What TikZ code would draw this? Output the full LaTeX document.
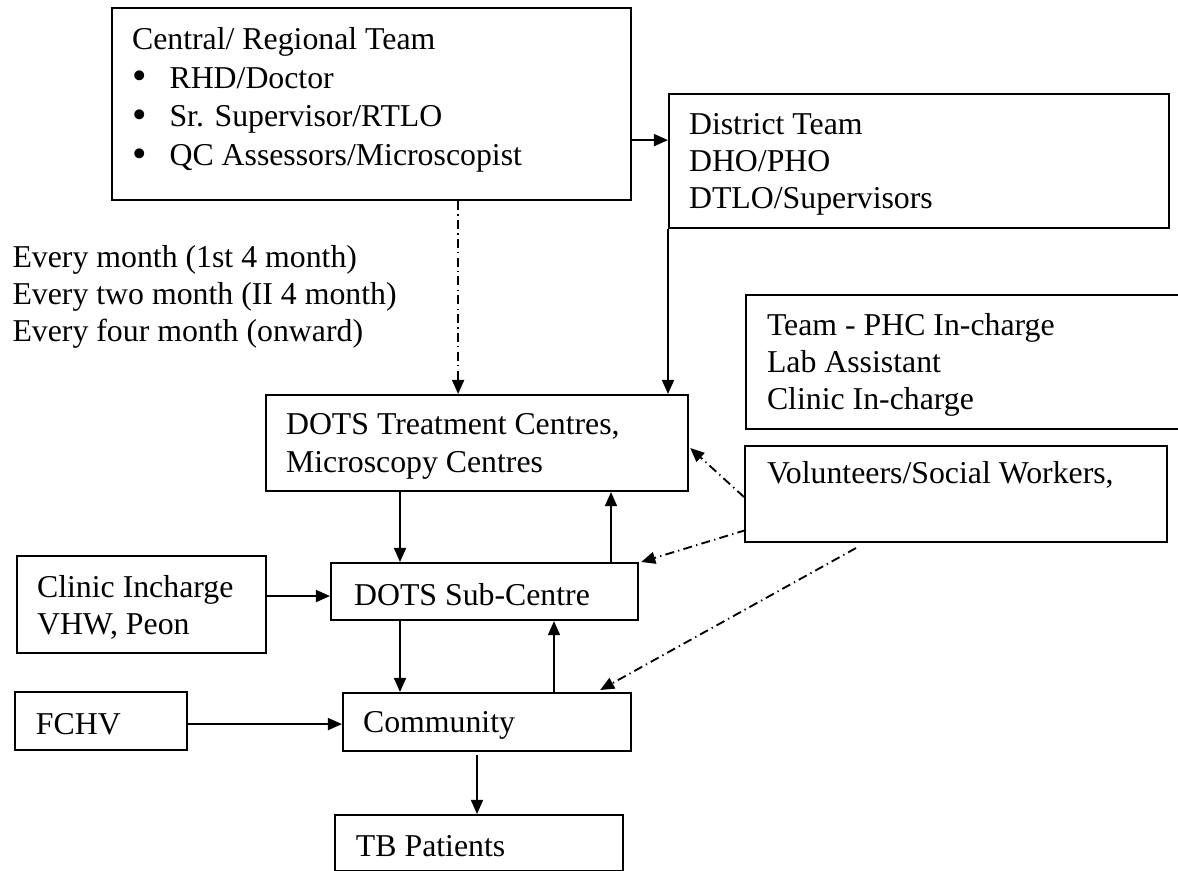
\documentclass[tikz,border=0pt]{standalone}
\usepackage{fontspec}
\usepackage{graphicx}
\setmainfont{Liberation Serif}
\usetikzlibrary{arrows.meta,calc}
% bullet with a fixed hanging indent
\newcommand\bulletitem[1]{\makebox[14.15pt][l]{\hspace{0.3pt}\raisebox{-0.6pt}{\scalebox{1.3}{\textbullet}}}#1}
\begin{document}
\begin{tikzpicture}[x=0.3774pt,y=-0.3774pt,
  font=\fontsize{12pt}{14pt}\selectfont,
  box/.style={draw, line width=0.8pt, anchor=north west, align=flush left,
              inner ysep=0pt, inner xsep=7.55pt,
              execute at begin node={\rule{0pt}{10.5pt}}},
  conn/.style={line width=0.7pt, -{Triangle[length=5.3pt,width=4.5pt]}},
  dashdot/.style={dash pattern=on 3.4pt off 1.6pt on 0.5pt off 1.6pt}]
\clip (0,0) rectangle (1178,871);
\fill[white] (0,0) rectangle (1178,871);

% boxes
\node[box, text width=180.8pt, minimum height=72.5pt,
      font=\fontsize{12pt}{14.6pt}\selectfont] (central) at (111,7)
  {Central/ Regional Team\\
   \bulletitem{RHD/Doctor}\\
   \bulletitem{Sr. Supervisor/RTLO}\\
   \bulletitem{QC Assessors/Microscopist}\rule[-8pt]{0pt}{8pt}};
\node[box, text width=173.6pt, minimum height=50.6pt] (district) at (668,93)
  {District Team\\DHO/PHO\\DTLO/Supervisors};
\node[box, inner xsep=7.9pt, text width=155.9pt, minimum height=50.6pt] (team) at (745,294)
  {Team - PHC In-charge\\Lab Assistant\\Clinic In-charge};
\node[box, text width=144.2pt, minimum height=36.2pt] (dots) at (265,394)
  {DOTS Treatment Centres,\\Microscopy Centres};
\node[box, inner xsep=8.3pt, text width=142.7pt, minimum height=36.2pt] (vol) at (744,445)
  {Volunteers/Social Workers,\\\strut};
\node[box, inner xsep=8.7pt, text width=98.5pt, minimum height=21.5pt] (sub) at (330,562)
  {DOTS Sub-Centre};
\node[box, text width=78.9pt, minimum height=36.6pt] (clinic) at (16,555)
  {Clinic Incharge\\VHW, Peon};
\node[box, text width=93.6pt, minimum height=21.9pt] (comm) at (342,692)
  {Community};
\node[box, inner xsep=7.9pt, text width=49.1pt, minimum height=21.9pt] (fchv) at (14,691)
  {FCHV};
\node[box, inner xsep=7.9pt, text width=92.8pt, minimum height=21.1pt] (tb) at (334,814)
  {TB Patients};

% visit frequency note
\node[anchor=west, align=left, inner sep=0pt] (freq) at (12,297)
  {Every month (1st 4 month)\\Every two month (II 4 month)\\Every four month (onward)};

% solid connectors
\draw[conn] ($(central.east)+(0,36)$) coordinate (c1) -- (c1 -| district.west);
\draw[conn] (district.south west) -- (district.south west |- dots.north);
\draw[conn] ($(dots.south west)+(135,0)$) coordinate (c4) -- (c4 |- sub.north);
\draw[conn] ($(sub.north west)+(281,0)$) coordinate (c5) -- (c5 |- dots.south);
\draw[conn] ($(clinic.east)+(0,-8.5)$) coordinate (c6) -- (c6 -| sub.west);
\draw[conn] ($(sub.south west)+(70,0)$) coordinate (c7) -- (c7 |- comm.north);
\draw[conn] ($(comm.north west)+(212,0)$) coordinate (c8) -- (c8 |- sub.south);
\draw[conn] ($(fchv.east)+(0,3)$) coordinate (c9) -- (c9 -| comm.west);
\draw[conn] ($(comm.south west)+(135,3)$) coordinate (c10) -- (c10 |- tb.north);

% dash-dot connectors
\draw[conn, dashdot] ($(central.south)+(86.5,0)$) coordinate (c2) -- (c2 |- dots.north);
\draw[conn, dashdot] ($(vol.west)+(0,3)$) -- ($(dots.east)+(1,5)$);
\draw[conn, dashdot] ($(vol.south west)+(2,-13)$) -- ($(sub.north east)+(2,0)$);
\draw[conn, dashdot] ($(vol.south west)+(112,5)$) -- ($(comm.north east)+(-32,-2)$);
\end{tikzpicture}
\end{document}
